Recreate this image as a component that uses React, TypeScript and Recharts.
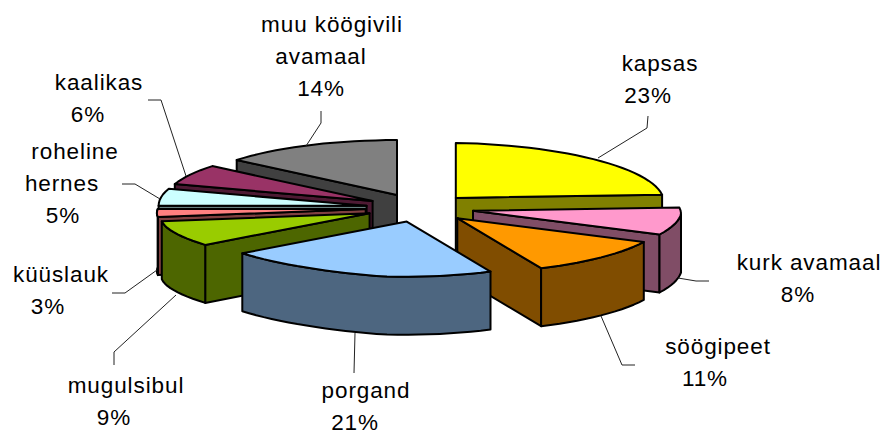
import React from "react";
import { PieChart, Pie } from "recharts";

const names = [
  "kapsas",
  "kurk avamaal",
  "söögipeet",
  "porgand",
  "mugulsibul",
  "küüslauk",
  "roheline hernes",
  "kaalikas",
  "muu köögivili avamaal",
];
const shares = [23, 8, 11, 21, 9, 3, 5, 6, 14];

const topColors = ["#FFFF00", "#FF99CC", "#FF9900", "#99CCFF", "#99CC00", "#FF8080", "#CCFFFF", "#993366", "#808080"];
const sideColors = ["#808000", "#804D66", "#804D00", "#4D6680", "#4D6600", "#804040", "#668080", "#4D1A33", "#404040"];

// back to front, the slices overlap because of the explosion
const drawOrder = [0, 1, 2, 8, 7, 6, 5, 4, 3];

// label text lines, same order as names
const labelLines = [
  ["kapsas", "23%"],
  ["kurk avamaal", "8%"],
  ["söögipeet", "11%"],
  ["porgand", "21%"],
  ["mugulsibul", "9%"],
  ["küüslauk", "3%"],
  ["roheline", "hernes", "5%"],
  ["kaalikas", "6%"],
  ["muu köögivili", "avamaal", "14%"],
];
// centre x of each text line, then baseline of the first line
const labelX = [
  [660, 648],
  [809, 798],
  [718, 705],
  [366, 355],
  [126, 114],
  [61, 48],
  [75, 62, 63],
  [99, 88],
  [332, 321, 321],
];
const labelY = [71, 270, 354, 398, 393, 282, 159, 90, 32];
const LINE_STEP = 32;

const leaders = [
  [[648, 116], [647, 128], [598, 158]],
  [[709, 281], [696, 281], [678, 278]],
  [[635, 365], [622, 365], [601, 316]],
  [[354, 373], [355, 333]],
  [[114, 365], [114, 352], [176, 295]],
  [[112, 293], [125, 293], [157, 270]],
  [[122, 184], [135, 184], [160, 199]],
  [[148, 100], [161, 100], [186, 176]],
  [[321, 111], [321, 123], [306, 146]],
];

const DEPTH = 58;
const EXPLODE = 0.26;
const TILT = 55 / 208;

// point on the tilted disc, angle is clockwise from 12 o'clock
function rim(r: number, deg: number) {
  const a = (deg * Math.PI) / 180;
  const s = Math.sin(a);
  const c = Math.cos(a);
  let x = s;
  let y = -TILT * c;
  if (c < 0) x += 0.09 * c;
  if (s > 0) y += 0.018 * s;
  if (s < 0 && c < 0) y -= 0.029 * Math.sin(2 * a);
  return { x: r * x, y: r * y };
}

function poly(points: { x: number; y: number }[]) {
  return points.map((p, i) => `${i ? "L" : "M"}${p.x.toFixed(1)},${p.y.toFixed(1)}`).join(" ") + " Z";
}

function arcPoints(ox: number, oy: number, r: number, from: number, to: number) {
  const out: { x: number; y: number }[] = [];
  const steps = Math.max(2, Math.ceil((to - from) / 3));
  for (let i = 0; i <= steps; i++) {
    const p = rim(r, from + ((to - from) * i) / steps);
    out.push({ x: ox + p.x, y: oy + p.y });
  }
  return out;
}

function sliceShape(only: number) {
  return (props: any) => {
    const index = names.indexOf(props.payload?.name ?? props.name);
    if (index !== only) return <g />;
    const { cx, cy, outerRadius, startAngle, endAngle } = props;
    // recharts angles run counter-clockwise from 3 o'clock
    const from = 90 - startAngle;
    const to = 90 - endAngle;
    const mid = (from + to) / 2;
    const off = rim(outerRadius * EXPLODE, mid);
    const ax = cx + off.x;
    const ay = cy + off.y;
    const stroke = { stroke: "#000", strokeWidth: 2, strokeLinejoin: "round" as const };
    const down = (p: { x: number; y: number }) => ({ x: p.x, y: p.y + DEPTH });
    const apex = { x: ax, y: ay };
    const top = arcPoints(ax, ay, outerRadius, from, to);
    const sinFrom = Math.sin((from * Math.PI) / 180);
    const sinTo = Math.sin((to * Math.PI) / 180);
    const wall = (p: { x: number; y: number }) => poly([apex, p, down(p), down(apex)]);
    const frontFrom = Math.max(from, 90);
    const frontTo = Math.min(to, 270);
    const outer = frontTo > frontFrom ? arcPoints(ax, ay, outerRadius, frontFrom, frontTo) : [];
    return (
      <g>
        {sinFrom < 0 && <path d={wall(top[0])} fill={sideColors[index]} {...stroke} />}
        {sinTo > 0 && <path d={wall(top[top.length - 1])} fill={sideColors[index]} {...stroke} />}
        {outer.length > 0 && (
          <path d={poly([...outer, ...outer.map(down).reverse()])} fill={sideColors[index]} {...stroke} />
        )}
        <path d={poly([apex, ...top])} fill={topColors[index]} {...stroke} />
      </g>
    );
  };
}

function SliceLabel(props: any) {
  const index = names.indexOf(props.payload?.name ?? props.name);
  if (index < 0) return null;
  return (
    <g>
      <polyline
        points={leaders[index].map((p) => p.join(",")).join(" ")}
        fill="none"
        stroke="#222"
        strokeWidth={1}
      />
      <text
        textAnchor="middle"
        fontFamily="'Liberation Sans', Arial, sans-serif"
        fontSize={22.5}
        letterSpacing={0.9}
        fill="#000"
      >
        {labelLines[index].map((line, i) => (
          <tspan key={i} x={labelX[index][i]} y={labelY[index] + i * LINE_STEP}>
            {line}
          </tspan>
        ))}
      </text>
    </g>
  );
}

const rows = names.map((name, i) => ({ name, value: shares[i] }));

export default function App() {
  return (
    <div style={{ position: "absolute", left: 0, top: 0, width: 884, height: 432 }}>
      <PieChart width={884} height={432} margin={{ top: 0, right: 0, bottom: 0, left: 0 }}>
        {drawOrder.map((only, i) => {
          const Shape = sliceShape(only);
          return (
            <Pie
              key={only}
              data={rows}
              dataKey="value"
              nameKey="name"
              cx={420}
              cy={208}
              outerRadius={208}
              startAngle={90}
              endAngle={-270}
              paddingAngle={0}
              stroke="none"
              shape={Shape}
              activeShape={Shape}
              inactiveShape={Shape}
              label={i === drawOrder.length - 1 ? SliceLabel : false}
              labelLine={false}
              rootTabIndex={-1}
              isAnimationActive={false}
            />
          );
        })}
      </PieChart>
    </div>
  );
}
